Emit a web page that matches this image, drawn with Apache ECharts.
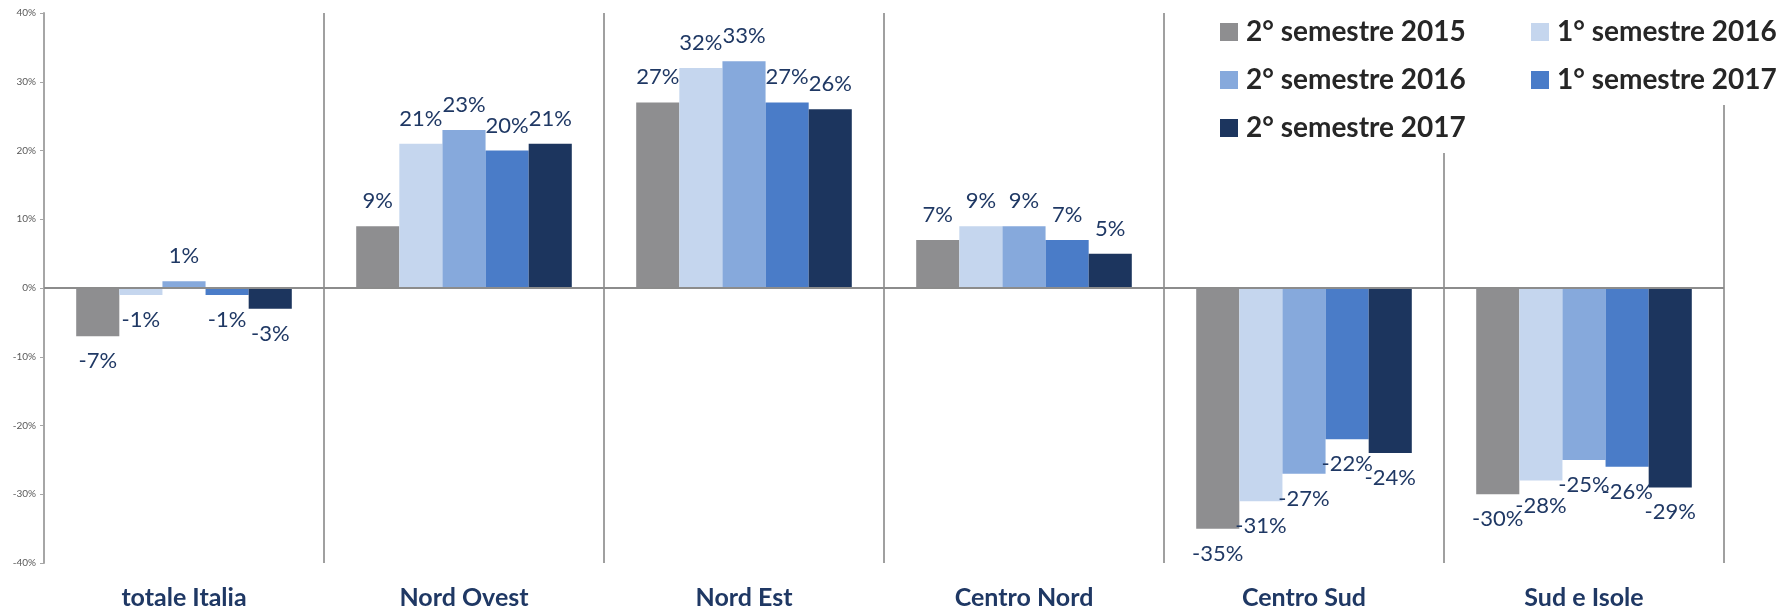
<!DOCTYPE html>
<html>
<head>
<meta charset="utf-8">
<script src="https://cdn.jsdelivr.net/npm/echarts@6/dist/echarts.min.js"></script>
<style>
html,body{margin:0;padding:0;background:#fff;}
#chart{width:1787px;height:611px;}
</style>
</head>
<body>
<div id="chart"></div>
<script>
const categories = ['totale Italia', 'Nord Ovest', 'Nord Est', 'Centro Nord', 'Centro Sud', 'Sud e Isole'];
const seriesNames = ['2° semestre 2015', '1° semestre 2016', '2° semestre 2016', '1° semestre 2017', '2° semestre 2017'];
const s2_2015 = [-7, 9, 27, 7, -35, -30];
const s1_2016 = [-1, 21, 32, 9, -31, -28];
const s2_2016 = [1, 23, 33, 9, -27, -25];
const s1_2017 = [-1, 20, 27, 7, -22, -26];
const s2_2017 = [-3, 21, 26, 5, -24, -29];
const yTicks = [-40, -30, -20, -10, 0, 10, 20, 30, 40];
const colors = ['#8e8e90', '#c5d6ee', '#86a9dc', '#4a7cc8', '#1c355e'];

const allValues = [s2_2015, s1_2016, s2_2016, s1_2017, s2_2017];
const FONT = 'Lato, "Open Sans", sans-serif';

const series = allValues.map((vals, i) => ({
  name: seriesNames[i],
  type: 'bar',
  barGap: '0%',
  barCategoryGap: '23%',
  itemStyle: { color: colors[i] },
  label: {
    show: true,
    formatter: '{c}%',
    fontSize: 22,
    fontFamily: FONT,
    color: '#1f3864',
    distance: 14
  },
  data: vals.map(v => ({ value: v, label: { position: v < 0 ? 'bottom' : 'top' } })),
  markLine: i === 0 ? {
    silent: true,
    symbol: ['none', 'none'],
    label: { show: false },
    lineStyle: { color: '#8c8c8c', width: 2, type: 'solid' },
    data: [{ yAxis: 0 }]
  } : undefined
}));

const legendCommon = {
  orient: 'vertical',
  top: 0,
  itemWidth: 18,
  itemHeight: 18,
  itemGap: 18,
  icon: 'rect',
  backgroundColor: '#ffffff',
  selectedMode: false,
  textStyle: {
    fontFamily: FONT,
    fontSize: 28,
    fontWeight: 'bold',
    color: '#262626',
    lineHeight: 30,
    padding: [0, 0, 0, 3]
  }
};

const chart = echarts.init(document.getElementById('chart'));
chart.setOption({
  animation: false,
  backgroundColor: '#ffffff',
  grid: { left: 44, right: 63, top: 13, bottom: 48, containLabel: false },
  legend: [
    Object.assign({}, legendCommon, {
      left: 1210,
      padding: [17, 20, 10, 10],
      data: [seriesNames[0], seriesNames[2], seriesNames[4]],
      z: 5
    }),
    Object.assign({}, legendCommon, {
      left: 1511,
      padding: [17, 20, 10, 20],
      data: [seriesNames[1], seriesNames[3]],
      z: 4
    })
  ],
  xAxis: {
    type: 'category',
    data: categories,
    axisLine: { show: false },
    axisTick: { show: false },
    splitLine: { show: true, interval: 0, lineStyle: { color: '#a0a0a0', width: 2 } },
    axisLabel: {
      interval: 0,
      margin: 22,
      fontFamily: FONT,
      fontSize: 25,
      fontWeight: 'bold',
      color: '#1f3864'
    }
  },
  yAxis: {
    type: 'value',
    min: yTicks[0],
    max: yTicks[yTicks.length - 1],
    interval: 10,
    axisLine: { show: true, lineStyle: { color: '#a6a6a6', width: 2 } },
    axisTick: { show: true, length: 4, lineStyle: { color: '#a6a6a6', width: 1 } },
    splitLine: { show: false },
    axisLabel: {
      formatter: '{value}%',
      fontFamily: FONT,
      fontSize: 10,
      color: '#595959',
      margin: 8
    }
  },
  series: series
});
</script>
</body>
</html>
